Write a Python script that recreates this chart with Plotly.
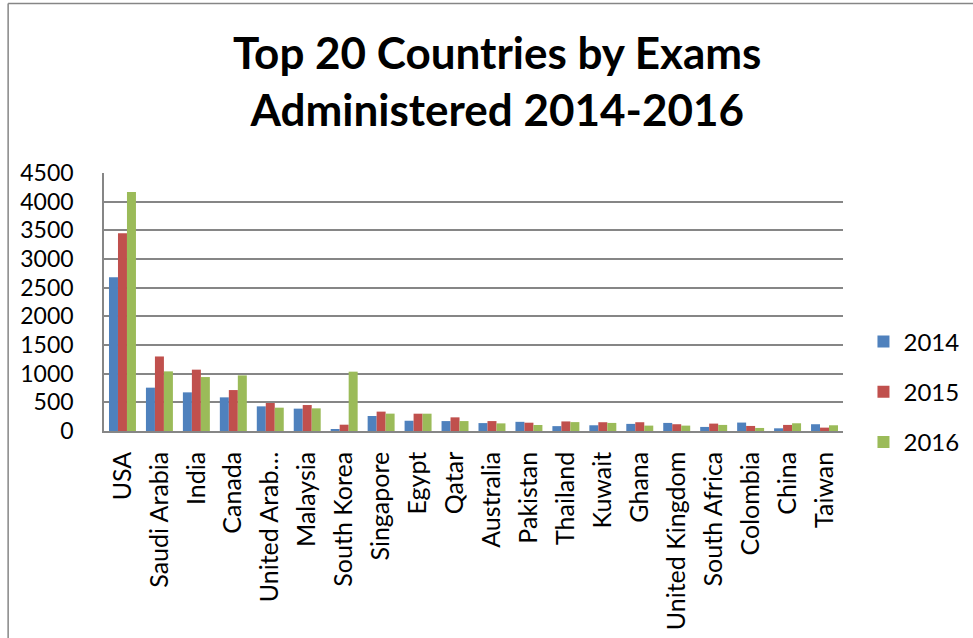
import plotly.graph_objects as go

countries = ["USA", "Saudi Arabia", "India", "Canada", "United Arab…", "Malaysia",
             "South Korea", "Singapore", "Egypt", "Qatar", "Australia", "Pakistan",
             "Thailand", "Kuwait", "Ghana", "United Kingdom", "South Africa",
             "Colombia", "China", "Taiwan"]
exams_2014 = [2680, 756, 674, 587, 430, 390, 35, 262, 179, 173, 138, 160,
              85, 100, 124, 141, 71, 147, 47, 118]
exams_2015 = [3450, 1300, 1070, 714, 488, 453, 110, 338, 302, 238, 173, 145,
              167, 153, 153, 118, 129, 88, 106, 59]
exams_2016 = [4170, 1040, 941, 970, 407, 395, 1035, 303, 302, 173, 133, 105,
              155, 141, 94, 94, 106, 53, 135, 100]
y_ticks = [0, 500, 1000, 1500, 2000, 2500, 3000, 3500, 4000, 4500]

series = [("2014", exams_2014, "#4F81BD"),
          ("2015", exams_2015, "#C0504D"),
          ("2016", exams_2016, "#9BBB59")]

W, H = 973, 638
L, R, T, B = 103.5, 843.5, 173, 431  # plot area in pixels

fig = go.Figure()
for name, vals, col in series:
    fig.add_trace(go.Bar(x=countries, y=vals, name=name, legendgroup=name,
                         marker=dict(color=col, line=dict(width=0))))

def px_x(p):
    return (p - L) / (R - L)

def px_y(p):
    return (B - p) / (B - T)

grey = "#868686"
fig.update_layout(
    width=W, height=H,
    margin=dict(l=L, r=W - R, t=T, b=H - B, pad=0, autoexpand=False),
    paper_bgcolor="white", plot_bgcolor="white",
    font=dict(family="Lato", size=22, color="black"),
    barmode="group", bargap=0.27, bargroupgap=0,
    showlegend=True,
    legend=dict(x=px_x(864), xanchor="left", y=px_y(392), yanchor="middle",
                font=dict(size=24), tracegroupgap=16, itemwidth=30,
                bgcolor="rgba(0,0,0,0)"),
    xaxis=dict(tickangle=-90, showgrid=False, showline=True, linecolor=grey,
               linewidth=1.5, ticks="", ticklabelstandoff=9, automargin=False,
               tickfont=dict(size=25)),
    yaxis=dict(range=[0, 4500], tickvals=y_ticks, showgrid=True,
               gridcolor=grey, gridwidth=1.5, showline=True, linecolor=grey,
               linewidth=1.5, zeroline=False, ticks="", ticklabelstandoff=24,
               automargin=False, tickfont=dict(size=23)),
)

fig.add_annotation(text="<b>Top 20 Countries by Exams<br>Administered 2014-2016</b>",
                   xref="paper", yref="paper", x=px_x(497), y=px_y(80),
                   xanchor="center", yanchor="middle", showarrow=False,
                   font=dict(family="Lato", size=44, color="black"))

# chart area border (left and top edges)
fig.add_shape(type="line", xref="paper", yref="paper",
              x0=px_x(7.5), x1=px_x(7.5), y0=px_y(H + 5), y1=px_y(3.5),
              line=dict(color=grey, width=1.5))
fig.add_shape(type="line", xref="paper", yref="paper",
              x0=px_x(7.5), x1=px_x(W + 5), y0=px_y(3.5), y1=px_y(3.5),
              line=dict(color=grey, width=1.5))

fig.write_html("out.html")
